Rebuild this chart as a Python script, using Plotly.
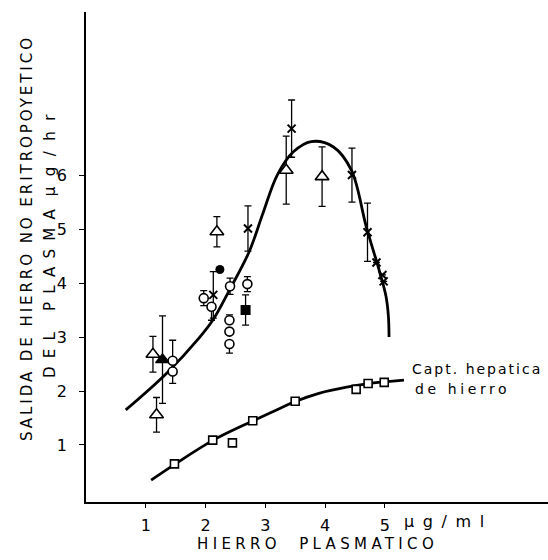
import plotly.graph_objects as go

# ---- fitted curves ----
upper_curve_x = [0.665, 1.35, 1.89, 2.12, 2.40, 2.73, 2.96, 3.20, 3.47, 3.77, 4.14, 4.44, 4.69, 4.92, 5.02, 5.06, 5.07]
upper_curve_y = [1.65, 2.33, 2.98, 3.31, 3.87, 4.58, 5.29, 6.00, 6.43, 6.62, 6.52, 6.09, 5.04, 4.18, 3.75, 3.38, 3.00]

lower_curve_x = [1.09, 1.51, 2.13, 2.80, 3.25, 3.49, 3.91, 4.36, 4.75, 5.32]
lower_curve_y = [0.35, 0.66, 1.09, 1.45, 1.68, 1.80, 1.96, 2.07, 2.14, 2.20]

# ---- data points ----
tri_open_x = [1.12, 1.18, 2.19, 3.35, 3.95]
tri_open_y = [2.68, 1.56, 4.95, 6.09, 5.97]
tri_open_err = [0.33, 0.32, 0.28, 0.63, 0.55]

tri_fill_x = [1.28]
tri_fill_y = [2.58]
tri_fill_err = [0.81]

circ_open_x = [1.45, 1.45, 1.97, 2.10, 2.41, 2.70, 2.40, 2.40, 2.40]
circ_open_y = [2.56, 2.36, 3.72, 3.56, 3.94, 3.98, 3.31, 3.10, 2.87]
circ_open_err_up = [0.38, 0.0, 0.14, 0.0, 0.15, 0.14, 0.10, 0.0, 0.0]
circ_open_err_dn = [0.0, 0.22, 0.14, 0.25, 0.15, 0.14, 0.0, 0.0, 0.17]

circ_fill_x = [2.24]
circ_fill_y = [4.25]

cross_x = [2.13, 2.71, 3.44, 4.45, 4.71, 4.86, 4.96, 4.98]
cross_y = [3.78, 5.01, 6.86, 6.00, 4.94, 4.38, 4.15, 4.03]
cross_err = [0.43, 0.42, 0.53, 0.50, 0.54, 0.0, 0.0, 0.0]

sq_fill_x = [2.67]
sq_fill_y = [3.50]
sq_fill_err = [0.28]

sq_open_x = [1.48, 2.12, 2.45, 2.79, 3.50, 4.52, 4.72, 4.99]
sq_open_y = [0.65, 1.09, 1.04, 1.45, 1.81, 2.03, 2.14, 2.16]

x_ticks = [1, 2, 3, 4, 5]
y_ticks = [1, 2, 3, 4, 5, 6]

FONT = "DejaVu Sans"
BLACK = "black"

def err(arr, arrminus=None):
    d = dict(type="data", array=arr, color=BLACK, thickness=1.3, width=3.5, visible=True)
    if arrminus is not None:
        d["symmetric"] = False
        d["arrayminus"] = arrminus
    return d

fig = go.Figure()

fig.add_trace(go.Scatter(x=upper_curve_x, y=upper_curve_y, mode="lines",
                         line=dict(color=BLACK, width=2.8, shape="spline", smoothing=1.0)))
fig.add_trace(go.Scatter(x=lower_curve_x, y=lower_curve_y, mode="lines",
                         line=dict(color=BLACK, width=2.8, shape="spline", smoothing=1.0)))

fig.add_trace(go.Scatter(x=cross_x, y=cross_y, mode="markers", error_y=err(cross_err),
                         marker=dict(symbol="x-thin", size=8, line=dict(color=BLACK, width=2))))
fig.add_trace(go.Scatter(x=tri_open_x, y=tri_open_y, mode="markers", error_y=err(tri_open_err),
                         marker=dict(symbol="triangle-up", size=12, color="white",
                                     line=dict(color=BLACK, width=1.6))))
fig.add_trace(go.Scatter(x=tri_fill_x, y=tri_fill_y, mode="markers", error_y=err(tri_fill_err),
                         marker=dict(symbol="triangle-up", size=12, color=BLACK,
                                     line=dict(color=BLACK, width=1.2))))
fig.add_trace(go.Scatter(x=circ_open_x, y=circ_open_y, mode="markers",
                         error_y=err(circ_open_err_up, circ_open_err_dn),
                         marker=dict(symbol="circle", size=9, color="white",
                                     line=dict(color=BLACK, width=1.6))))
fig.add_trace(go.Scatter(x=circ_fill_x, y=circ_fill_y, mode="markers",
                         marker=dict(symbol="circle", size=9, color=BLACK)))
fig.add_trace(go.Scatter(x=sq_fill_x, y=sq_fill_y, mode="markers", error_y=err(sq_fill_err),
                         marker=dict(symbol="square", size=10, color=BLACK)))
fig.add_trace(go.Scatter(x=sq_open_x, y=sq_open_y, mode="markers",
                         marker=dict(symbol="square", size=8, color="white",
                                     line=dict(color=BLACK, width=1.6))))

axis_common = dict(showline=True, linecolor=BLACK, linewidth=1.5, ticks="outside",
                   tickcolor=BLACK, tickwidth=1.3, showgrid=False, zeroline=False,
                   tickfont=dict(family=FONT, size=16, color=BLACK))

fig.update_layout(
    width=548, height=560,
    margin=dict(l=86, r=0, t=12, b=58),
    paper_bgcolor="white", plot_bgcolor="white",
    showlegend=False,
    xaxis=dict(range=[0, 7.73], tickvals=x_ticks, ticklen=4, ticklabelstandoff=4, **axis_common),
    yaxis=dict(range=[-0.056, 9.02], tickvals=y_ticks, ticklen=5, ticklabelstandoff=9, **axis_common),
)

def sp(text, ls):
    return f'<span style="letter-spacing:{ls}px">{text}</span>'

def ann(text, x, y, xref="paper", yref="paper", angle=0, size=15, xanchor="center"):
    fig.add_annotation(text=text, x=x, y=y, xref=xref, yref=yref, showarrow=False,
                       textangle=angle, xanchor=xanchor, yanchor="middle",
                       font=dict(family=FONT, size=size, color=BLACK))

W, H = 462.0, 490.0
def px(xp): return (xp - 86) / W
def py(yp): return (502 - yp) / H

ann(sp("SALIDA DE HIERRO NO ERITROPOYETICO", 2.95), px(27), py(238), angle=-90, size=15)
ann(sp("DEL PLASMA", 8.2) + " " + sp("μg/hr", 10.5), px(50), py(241), angle=-90, size=15)
ann(sp("HIERRO&nbsp;&nbsp;PLASMATICO", 4.35), px(317), py(544), size=15)
ann(sp("μg/ml", 8.6), px(448), py(521), size=16)
ann(sp("Capt. hepatica", 2.0), 5.42, 2.41, xref="x", yref="y", size=14, xanchor="left")
ann(sp("de hierro", 3.6), 5.47, 2.04, xref="x", yref="y", size=14, xanchor="left")

fig.write_html("out.html")
